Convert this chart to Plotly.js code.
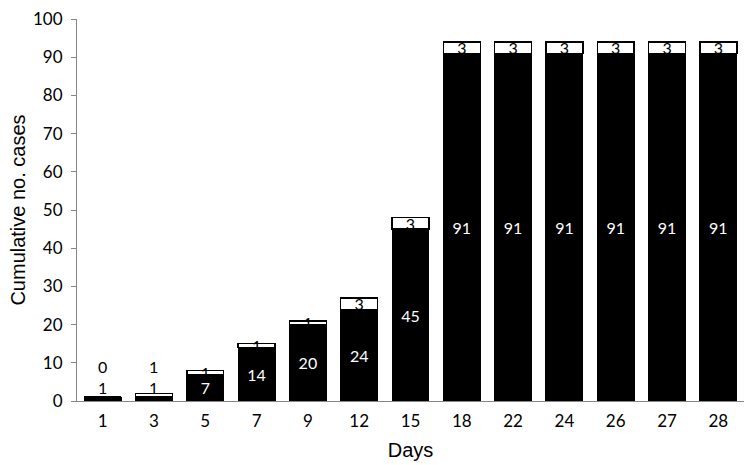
<!DOCTYPE html>
<html>
<head>
<meta charset="utf-8">
<script src="https://cdn.plot.ly/plotly-3.0.1.min.js"></script>
<style>html,body{margin:0;padding:0;background:#fff;}#chart{width:750px;height:465px;}</style>
</head>
<body>
<div id="chart"></div>
<script>
const days = ['1','3','5','7','9','12','15','18','22','24','26','27','28'];
const lowerValues = [1,1,7,14,20,24,45,91,91,91,91,91,91];
const upperValues = [0,1,1,1,1,3,3,3,3,3,3,3,3];
const yTicks = [0,10,20,30,40,50,60,70,80,90,100];

const smallThreshold = 3; // bars too short to hold their labels get them above
const isSmall = lowerValues.map(v => v < smallThreshold);

const labelFont = {family: 'Lato, "Liberation Sans", sans-serif', size: 16};
const tickFont = {family: 'Lato, "Liberation Sans", sans-serif', size: 17, color: '#000000'};

const traceLower = {
  type: 'bar', x: days, y: lowerValues,
  marker: {color: '#000000', line: {color: '#000000', width: 1}},
  text: lowerValues.map((v, i) => isSmall[i] ? '' : String(v)),
  textposition: 'inside', insidetextanchor: 'middle', constraintext: 'none', textangle: 0,
  insidetextfont: Object.assign({color: '#ffffff'}, labelFont),
  hoverinfo: 'x+y', showlegend: false
};
const traceUpper = {
  type: 'bar', x: days, y: upperValues,
  marker: {color: '#ffffff', line: {color: '#000000', width: 1.5}},
  text: upperValues.map((v, i) => isSmall[i] ? '' : String(v)),
  textposition: 'inside', insidetextanchor: 'middle', constraintext: 'none', textangle: 0,
  insidetextfont: Object.assign({color: '#000000'}, labelFont),
  hoverinfo: 'x+y', showlegend: false
};

const annotations = [];
days.forEach((d, i) => {
  if (!isSmall[i]) return;
  annotations.push({x: i, y: 0, yref: 'y', xref: 'x', text: String(lowerValues[i]), showarrow: false,
    yanchor: 'middle', yshift: 14, font: Object.assign({color: '#000000'}, labelFont)});
  annotations.push({x: i, y: 0, yref: 'y', xref: 'x', text: String(upperValues[i]), showarrow: false,
    yanchor: 'middle', yshift: 35, font: Object.assign({color: '#000000'}, labelFont)});
});

const layout = {
  width: 750, height: 465,
  margin: {l: 77, r: 6, t: 19, b: 64},
  paper_bgcolor: '#ffffff', plot_bgcolor: '#ffffff',
  barmode: 'stack', bargap: 0.28,
  xaxis: {
    type: 'category', showgrid: false, zeroline: false,
    showline: true, linecolor: '#868686', linewidth: 1,
    ticks: '', ticklabelstandoff: 5, tickfont: tickFont,
    title: {text: 'Days', font: {family: '"Liberation Sans", Arial, sans-serif', size: 20, color: '#000000'}, standoff: 12}
  },
  yaxis: {
    range: [0, 100], tickvals: yTicks, showgrid: false, zeroline: false,
    showline: true, linecolor: '#868686', linewidth: 1,
    ticks: 'outside', ticklen: 5, tickcolor: '#868686', ticklabelstandoff: 5,
    tickfont: tickFont,
    title: {text: 'Cumulative no. cases', font: {family: '"Liberation Sans", Arial, sans-serif', size: 20, color: '#000000'}, standoff: 2}
  },
  annotations: annotations,
  showlegend: false
};

Plotly.newPlot('chart', [traceLower, traceUpper], layout, {displayModeBar: false, staticPlot: true});
</script>
</body>
</html>
